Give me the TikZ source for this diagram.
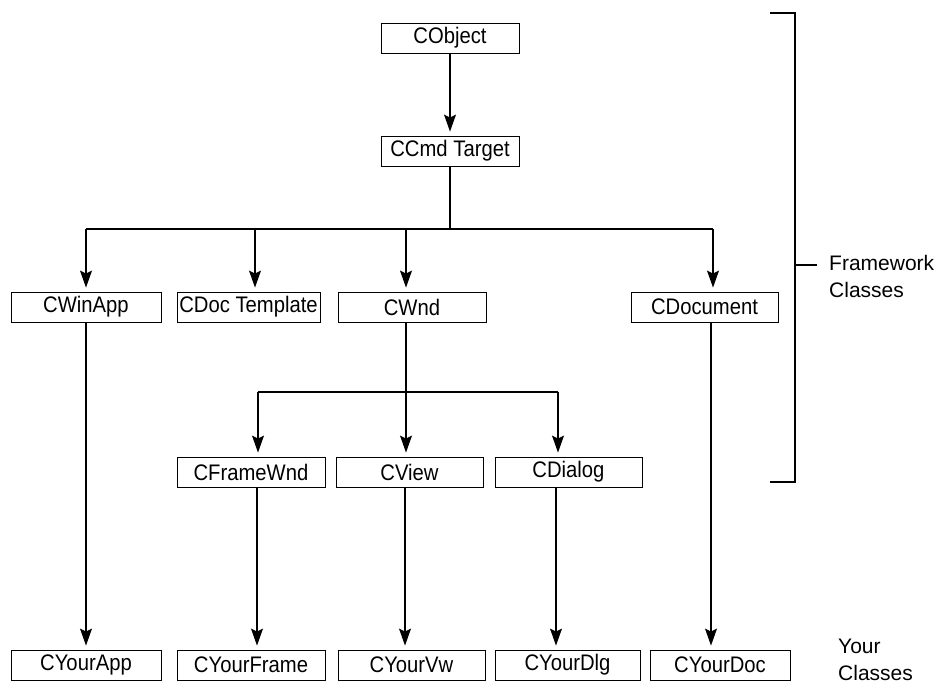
\documentclass[tikz,border=0pt]{standalone}
\usepackage{fontspec}
\setmainfont{Liberation Sans}[FakeStretch=0.9]
\newfontfamily\labelfont{Liberation Sans}
\usetikzlibrary{arrows.meta}
\begin{document}
\begin{tikzpicture}[x=1pt,y=-1pt,
  cls/.style={draw, line width=0.9pt, minimum height=30pt, inner sep=0pt,
    font=\fontsize{22.5}{26}\selectfont},
  link/.style={line width=1.1pt},
  arr/.style={link, -{Stealth[length=17pt,width=12pt,inset=3pt]}, shorten >=4pt},
  side/.style={align=left, anchor=west, inner sep=0pt,
    font=\labelfont\fontsize{21}{27}\selectfont}]
\useasboundingbox (0,0) rectangle (949,686);

% class boxes
\node[cls, minimum width=138pt] (cobj)    at (450,38)    {CObject};
\node[cls, minimum width=138pt] (ccmd)    at (450,151)   {CCmd Target};
\node[cls, minimum width=150pt] (cwinapp) at (86,307)    {CWinApp};
\node[cls, minimum width=143pt] (cdoct)   at (248.5,307) {CDoc Template};
\node[cls, minimum width=148pt] (cwnd)    at (412,307)   {CWnd};
\node[cls, minimum width=147pt] (cdocu)   at (704.5,307) {CDocument};
\node[cls, minimum width=148pt] (cframe)  at (251,472)   {CFrameWnd};
\node[cls, minimum width=147pt] (cview)   at (409.5,472) {CView};
\node[cls, minimum width=147pt] (cdlg)    at (568.5,472) {CDialog};
\node[cls, minimum width=150pt] (cyapp)   at (86,665)    {CYourApp};
\node[cls, minimum width=148pt] (cyframe) at (251,665)   {CYourFrame};
\node[cls, minimum width=147pt] (cyvw)    at (411.5,665) {CYourVw};
\node[cls, minimum width=145pt] (cydlg)   at (567.5,665) {CYourDlg};
\node[cls, minimum width=140pt] (cydoc)   at (720,665)   {CYourDoc};

% CObject -> CCmdTarget
\draw[arr] (cobj.south) -- (ccmd.north);

% first fan-out below CCmdTarget
\coordinate (a1) at (86,229);
\coordinate (a2) at (255,229);
\coordinate (a3) at (406,229);
\coordinate (a4) at (713,229);
\draw[link] (ccmd.south) -- (ccmd.south |- a1);
\draw[link] (a1) -- (a4);
\draw[arr] (a1) -- (a1 |- cwinapp.north);
\draw[arr] (a2) -- (a2 |- cdoct.north);
\draw[arr] (a3) -- (a3 |- cwnd.north);
\draw[arr] (a4) -- (a4 |- cdocu.north);

% second fan-out below CWnd
\coordinate (m1) at (258,392);
\coordinate (m2) at (406,392);
\coordinate (m3) at (558,392);
\draw[link] (m2 |- cwnd.south) -- (m2);
\draw[link] (m1) -- (m3);
\draw[arr] (m1) -- (m1 |- cframe.north);
\draw[arr] (m2) -- (m2 |- cview.north);
\draw[arr] (m3) -- (m3 |- cdlg.north);

% framework classes down to the user's classes
\coordinate (d1) at (86,0);
\coordinate (d2) at (257,0);
\coordinate (d3) at (405,0);
\coordinate (d4) at (556,0);
\coordinate (d5) at (711,0);
\draw[arr] (d1 |- cwinapp.south) -- (d1 |- cyapp.north);
\draw[arr] (d2 |- cframe.south)  -- (d2 |- cyframe.north);
\draw[arr] (d3 |- cview.south)   -- (d3 |- cyvw.north);
\draw[arr] (d4 |- cdlg.south)    -- (d4 |- cydlg.north);
\draw[arr] (d5 |- cdocu.south)   -- (d5 |- cydoc.north);

% bracket grouping the framework classes
\coordinate (bt) at (795,13);
\coordinate (bb) at (795,482);
\coordinate (bm) at (795,265);
\draw[link] ([xshift=-25pt]bt) -- (bt) -- (bb) -- ([xshift=-25pt]bb);
\draw[link] (bm) -- ([xshift=22pt]bm);
\node[side] (fw) at (829,276) {Framework\\Classes};
\node[side] (yc) at (838,660) {Your\\Classes};
\end{tikzpicture}
\end{document}
